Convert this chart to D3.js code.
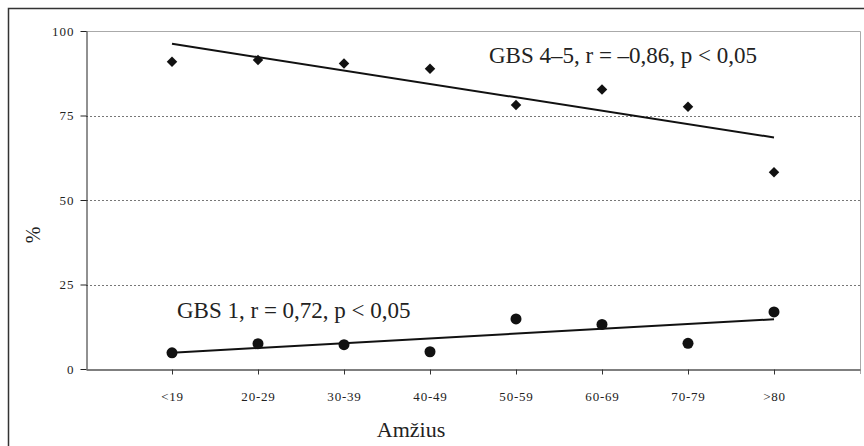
<!DOCTYPE html>
<html>
<head>
<meta charset="utf-8">
<script src="https://cdn.jsdelivr.net/npm/d3@7"></script>
<style>
  body { margin: 0; background: white; }
  svg { display: block; }
</style>
</head>
<body>
<main></main>
<script>
// age groups and the two series (% of patients)
const ageGroups = ["<19", "20-29", "30-39", "40-49", "50-59", "60-69", "70-79", ">80"]
const gbs45 = [90.9, 91.4, 90.4, 88.8, 78.1, 82.7, 77.6, 58.2]
const gbs1 = [4.8, 7.5, 7.2, 5.1, 14.8, 13.2, 7.6, 16.9]
// trend lines, value at first and last age group
const gbs45Trend = [96.2, 68.5]
const gbs1Trend = [4.8, 14.7]
const yTicks = [0, 25, 50, 75, 100]

const svgWidth = 864
const svgHeight = 446

const plotLeft = 86
const plotRight = 860
const plotTop = 31
const plotBottom = 369

let svg = d3.select("main")
    .append("svg")
    .attr("width", svgWidth)
    .attr("height", svgHeight)
    .style("font-family", "'Liberation Serif', 'DejaVu Serif', serif")

// outer frame (bottom and right are cut off in the original)
svg.append("path")
    .attr("d", `M8.5,${svgHeight + 2} L8.5,8.5 L${svgWidth + 2},8.5`)
    .style("fill", "none")
    .style("stroke", "#333")
    .style("stroke-width", 1.5)

//scales
let xScale = d3.scalePoint()
    .domain(ageGroups)
    .range([plotLeft, plotRight])
    .padding(1)

let yScale = d3.scaleLinear()
    .domain([0, 100])
    .range([plotBottom, plotTop])

//gridlines
svg.append("g")
    .selectAll("line")
    .data(yTicks.filter(d => d > 0 && d < 100))
    .enter()
    .append("line")
    .attr("x1", plotLeft)
    .attr("x2", plotRight)
    .attr("y1", d => Math.round(yScale(d)) + 0.5)
    .attr("y2", d => Math.round(yScale(d)) + 0.5)
    .style("stroke", "#777")
    .style("stroke-dasharray", "2,2")

// plot area top and right edge
svg.append("path")
    .attr("d", `M${plotLeft},${plotTop + 0.5} L${plotRight + 0.5},${plotTop + 0.5} L${plotRight + 0.5},${plotBottom + 5}`)
    .style("fill", "none")
    .style("stroke", "#aaa")
    .style("stroke-width", 1)

//y axis
let leftAxis = d3.axisLeft(yScale)
    .tickValues(yTicks)
    .tickSize(6)
    .tickSizeOuter(0)
    .tickPadding(6)

let yAxis = svg.append("g")
    .attr("transform", `translate(${plotLeft + 0.5}, 0)`)
    .call(leftAxis)

yAxis.select("path").style("stroke", "#222")
yAxis.selectAll("line").style("stroke", "#222")
yAxis.selectAll("text")
    .style("font-family", "'Liberation Serif', serif")
    .style("font-size", "13px")
    .style("letter-spacing", "1px")
    .style("fill", "#222")

//x axis
let bottomAxis = d3.axisBottom(xScale)
    .tickSize(5)
    .tickSizeOuter(0)
    .tickPadding(17)

let xAxis = svg.append("g")
    .attr("transform", `translate(0, ${plotBottom + 0.5})`)
    .call(bottomAxis)

xAxis.select("path").style("stroke", "#555").style("stroke-width", 1.5)
xAxis.selectAll("line").style("stroke", "#333")
xAxis.selectAll("text")
    .style("font-family", "'Liberation Serif', serif")
    .style("font-size", "13px")
    .style("letter-spacing", "0.8px")
    .style("fill", "#222")

// axis titles
svg.append("text")
    .attr("x", 411)
    .attr("y", 437)
    .attr("text-anchor", "middle")
    .style("font-size", "22px")
    .style("fill", "#222")
    .text("Amžius")

svg.append("text")
    .attr("transform", `translate(40, 235) rotate(-90)`)
    .attr("text-anchor", "middle")
    .style("font-size", "20px")
    .style("fill", "#222")
    .text("%")

// trend lines
function trend(values) {
    return [
        {group: ageGroups[0], value: values[0]},
        {group: ageGroups[ageGroups.length - 1], value: values[1]}
    ]
}
let line = d3.line()
    .x(d => xScale(d.group))
    .y(d => yScale(d.value))

svg.append("path")
    .datum(trend(gbs45Trend))
    .attr("d", line)
    .style("fill", "none")
    .style("stroke", "#111")
    .style("stroke-width", 2)

svg.append("path")
    .datum(trend(gbs1Trend))
    .attr("d", line)
    .style("fill", "none")
    .style("stroke", "#111")
    .style("stroke-width", 2)

// diamonds
svg.append("g")
    .selectAll("path")
    .data(gbs45)
    .enter()
    .append("path")
    .attr("d", d3.symbol().type(d3.symbolDiamond2).size(70))
    .attr("transform", (d, i) => `translate(${xScale(ageGroups[i])}, ${yScale(d)})`)
    .style("fill", "#111")

// circles
svg.append("g")
    .selectAll("circle")
    .data(gbs1)
    .enter()
    .append("circle")
    .attr("cx", (d, i) => xScale(ageGroups[i]))
    .attr("cy", d => yScale(d))
    .attr("r", 5.5)
    .style("fill", "#111")

// labels
svg.append("text")
    .attr("x", 489)
    .attr("y", 63)
    .style("font-size", "23px")
    .style("fill", "#222")
    .text("GBS 4–5, r = –0,86, p < 0,05")

svg.append("text")
    .attr("x", 177)
    .attr("y", 318)
    .style("font-size", "23px")
    .style("fill", "#222")
    .text("GBS 1, r = 0,72, p < 0,05")
</script>
</body>
</html>
